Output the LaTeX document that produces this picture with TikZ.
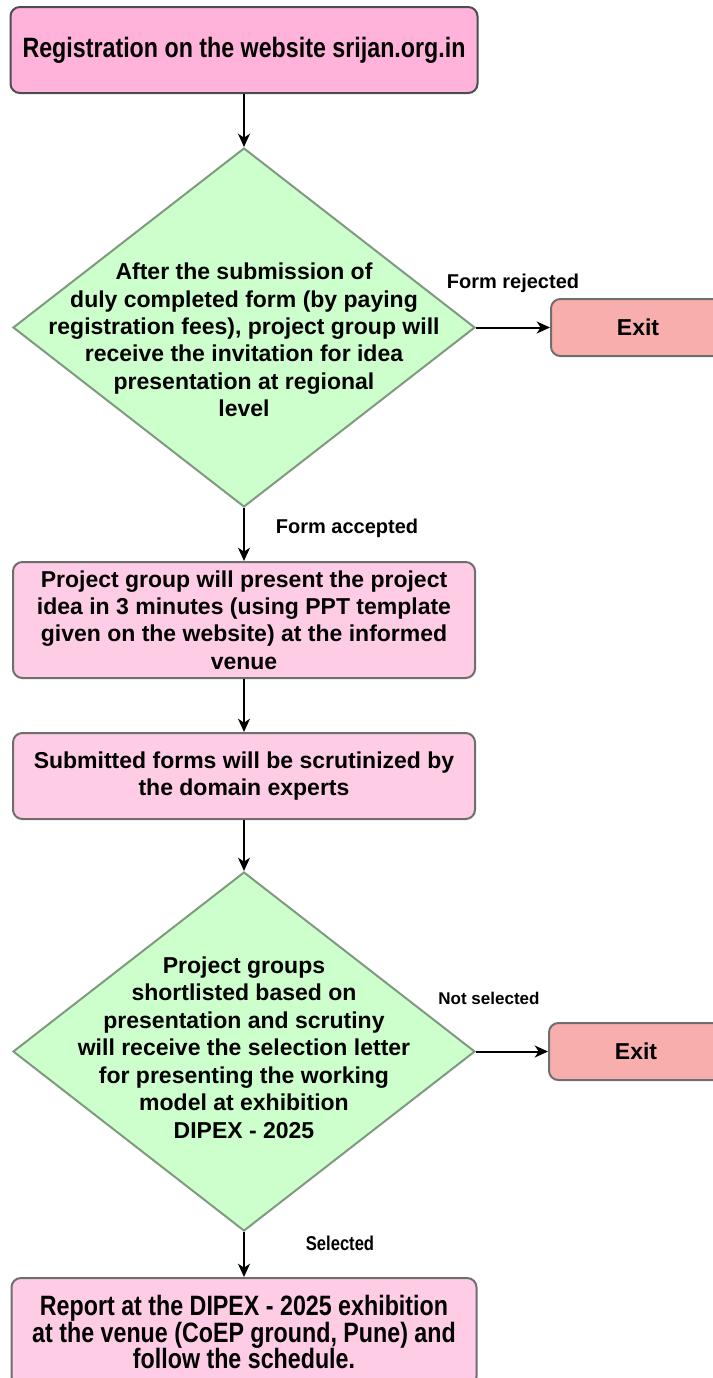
\documentclass[tikz,border=0pt]{standalone}
\usepackage{fontspec}
\setmainfont{Liberation Sans}
\newfontfamily\narrowfont[FakeStretch=0.83]{Liberation Sans}
\usetikzlibrary{shapes.geometric}
\usetikzlibrary{arrows.meta}
\definecolor{toppink}{HTML}{FFB3DA}
\definecolor{procpink}{HTML}{FFCCE6}
\definecolor{exitred}{HTML}{F9AEAE}
\definecolor{decgreen}{HTML}{CCFFCC}
\definecolor{decline}{HTML}{7F9A7F}
\definecolor{procline}{HTML}{6E6E6E}

\begin{document}
\begin{tikzpicture}[x=0.75pt, y=-0.75pt,
  proc/.style = {draw=procline, fill=procpink, line width=1.5pt, rounded corners=7pt, align=center, inner sep=0pt, font=\bfseries\fontsize{17.25pt}{20.5pt}\selectfont},
  narrow/.style = {font=\narrowfont\bfseries\fontsize{21pt}{20pt}\selectfont},
  decision/.style = {diamond, draw=decline, fill=decgreen, line width=1.5pt, inner sep=0pt, minimum width=346.5pt, minimum height=269.25pt},
  dtext/.style = {align=center, inner sep=0pt, font=\bfseries\fontsize{17.25pt}{20.6pt}\selectfont},
  exitbox/.style = {proc, fill=exitred, minimum width=130.5pt, minimum height=42.75pt},
  lbl/.style = {inner sep=0pt, font=\bfseries\fontsize{15pt}{18pt}\selectfont},
  flow/.style = {line width=1.5pt, -{Stealth[length=10pt, width=9pt, inset=3pt]}}]

    \useasboundingbox (0, 0) rectangle (713, 1378);
    \clip (0, 0) rectangle (713, 1378);

    \node at (244, 50) [proc, narrow, draw=black!70, fill=toppink, minimum width=350.25pt, minimum height=64.5pt] (reg) {Registration on the website srijan.org.in};

    \node at (244, 327.5) [decision] (dec1) {};
    \node at (244, 340) [dtext] (dec1_txt) {After the submission of\\duly completed form (by paying\\registration fees), project group will\\receive the invitation for idea\\presentation at regional\\level};
    \node at (638, 327.5) [exitbox] (exit_1) {Exit};

    \node at (244, 620) [proc, minimum width=346.5pt, minimum height=87pt] (present) {Project group will present the project\\idea in 3 minutes (using PPT template\\given on the website) at the informed\\venue};
    \node at (244, 776) [proc, minimum width=346.5pt, minimum height=64.5pt] (scrutiny) {Submitted forms will be scrutinized by\\the domain experts};

    \node at (244, 1051.5) [decision] (dec2) {};
    \node at (244, 1047.5) [dtext] (dec2_txt) {Project groups\\shortlisted based on\\presentation and scrutiny\\will receive the selection letter\\for presenting the working\\model at exhibition\\DIPEX - 2025};
    \node at (636, 1051.5) [exitbox] (exit_2) {Exit};

    \node at (244, 1332) [proc, narrow, minimum width=348.75pt, minimum height=81pt] (report) {Report at the DIPEX - 2025 exhibition\\at the venue (CoEP ground, Pune) and\\follow the schedule.};

    \node at (513, 283) [lbl] (rejected) {Form rejected};
    \node at (347, 528) [lbl] (accepted) {Form accepted};
    \node at (489, 998) [lbl, font=\bfseries\fontsize{12.75pt}{15pt}\selectfont] (not_sel) {Not selected};
    \node at (340, 1243) [lbl, font=\narrowfont\bfseries\fontsize{15pt}{18pt}\selectfont] (sel) {Selected};

    \draw[flow] (reg.south) -- (dec1.north);
    \draw[flow] (dec1.east) -- (exit_1.west);
    \draw[flow] (dec1.south) -- (present.north);
    \draw[flow] (present.south) -- (scrutiny.north);
    \draw[flow] (scrutiny.south) -- (dec2.north);
    \draw[flow] (dec2.east) -- (exit_2.west);
    \draw[flow] (dec2.south) -- (report.north);
\end{tikzpicture}
\end{document}
